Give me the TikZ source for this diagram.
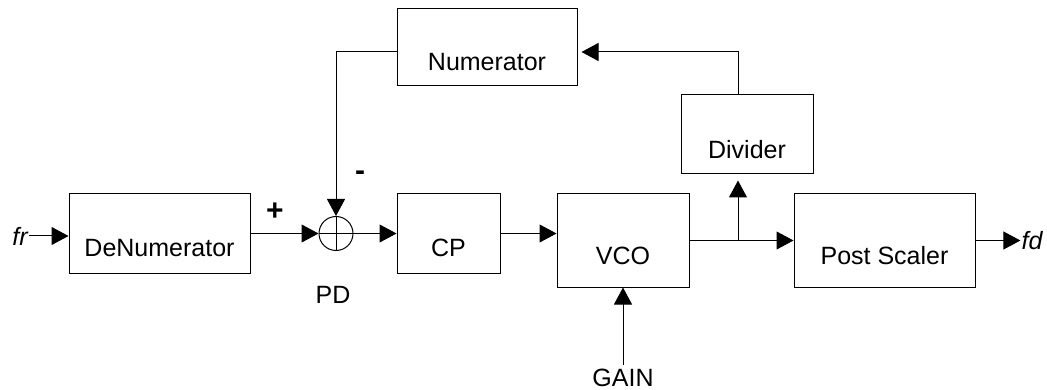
\documentclass[tikz,border=0pt]{standalone}
\usepackage{fontspec}
\setmainfont{Liberation Sans}
\usetikzlibrary{arrows.meta,calc}

\begin{document}
\begin{tikzpicture}[x=1pt,y=-1pt,
  font=\fontsize{25}{30}\selectfont,
  blockbox/.style={draw=black,line width=1pt,rectangle,inner sep=0pt},
  wire/.style={draw=black,line width=1pt},
  arr/.style={wire,-{Triangle[length=17pt,width=18pt]}},
  sign/.style={font=\fontsize{30}{34}\selectfont\bfseries,inner sep=0pt},
  plain/.style={inner sep=0pt}]
\useasboundingbox (0,0) rectangle (1047,390);

% blocks
\node[blockbox,minimum width=181pt,minimum height=79pt] (den) at (159.5,233.5) {};
\node[blockbox,minimum width=103pt,minimum height=79pt] (cp) at (448.5,233.5) {};
\node[blockbox,minimum width=132pt,minimum height=93pt] (vco) at (623,240.5) {};
\node[blockbox,minimum width=181pt,minimum height=93pt] (post) at (884.5,240.5) {};
\node[blockbox,minimum width=132pt,minimum height=79pt] (div) at (747,134.5) {};
\node[blockbox,minimum width=180pt,minimum height=77pt] (num) at (487,47.5) {};

% block captions
\node[plain] (denT) at ([yshift=-14.5pt]den.center) {DeNumerator};
\node[plain] (cpT) at ([yshift=-14.5pt]cp.center) {CP};
\node[plain] (vcoT) at ([yshift=-15.5pt]vco.center) {VCO};
\node[plain] (postT) at ([yshift=-15.5pt]post.center) {Post Scaler};
\node[plain] (divT) at ([yshift=-15.5pt]div.center) {Divider};
\node[plain] (numT) at ([yshift=-14.5pt]num.center) {Numerator};

% summing junction
\node[draw=black,line width=1pt,circle,minimum size=34pt,inner sep=0pt] (sum) at (336,233.5) {};
\draw[wire] (sum.west) -- (sum.east) (sum.north) -- (sum.south);

% labels
\node[inner sep=1pt] (fr) at (20,236) {\itshape fr};
\node[inner sep=1pt] (fd) at (1032,241) {\itshape fd};
\node[inner sep=4pt] (gain) at (623,378) {GAIN};
\node[plain] (pd) at (333,295) {PD};
\node[sign] (plus) at (275,212) {+};
\node[sign] (minus) at (360,176) {-};

% routing points
\coordinate (br) at (738,240.5);
\coordinate (tp) at (738,52);

% forward path
\draw[arr] (fr.east) -- (fr.east -| den.west);
\draw[arr] (den.east) -- (sum.west);
\draw[arr] (sum.east) -- (cp.west);
\draw[arr] (cp.east) -- (cp.east -| vco.west);
\draw[arr] (vco.east) -- (post.west);
\draw[arr] (post.east) -- (post.east -| fd.west);
\draw[arr] (gain.north) -- (vco.south);

% feedback path
\draw[arr,shorten >=6pt] (br) -- (br |- div.south);
\draw[arr,shorten >=4pt] (br |- div.north) -- (tp) -- (tp -| num.east);
\draw[arr] (tp -| num.west) -- (tp -| sum.north) -- (sum.north);
\end{tikzpicture}
\end{document}
